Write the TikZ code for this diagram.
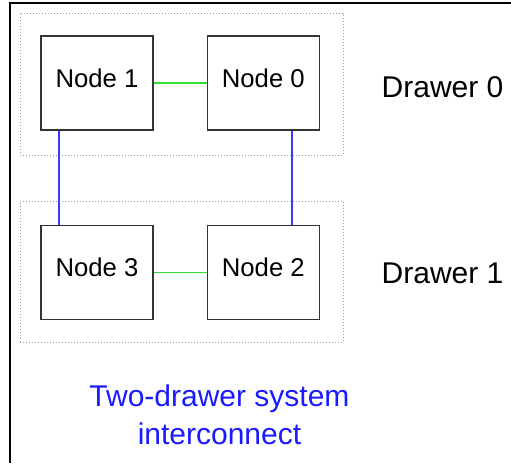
\documentclass[tikz,border=0pt]{standalone}
\usepackage{fontspec}
\setmainfont{Liberation Sans}
\usepackage{xcolor}
\usepackage{tikz}
\usetikzlibrary{positioning}
\definecolor{linkgreen}{HTML}{33DD33}
\definecolor{linkblue}{HTML}{3838FF}
\definecolor{titleblue}{HTML}{1A1AFF}
\definecolor{boxgray}{HTML}{333333}
\definecolor{dotgray}{HTML}{999999}

\begin{document}
\begin{tikzpicture}[x=1pt, y=-1pt,
    nodebox/.style={draw=boxgray, line width=1.3pt, minimum width=112pt, minimum height=94pt,
                    inner sep=0pt, text height=18.4pt, text depth=10pt,
                    font=\fontsize{25.7}{30}\selectfont},
    drawerbox/.style={draw=dotgray, dotted, line width=1pt, minimum width=323pt, inner sep=0pt},
    drawerlabel/.style={anchor=west, inner sep=0pt, font=\fontsize{30}{36}\selectfont},
    greenlink/.style={draw=linkgreen, line width=1.5pt},
    bluelink/.style={draw=linkblue, line width=1.5pt}]
    \useasboundingbox (0,0) rectangle (511,463);
    % outer frame (cut off on the right and bottom)
    \draw[line width=1.3pt] (10,463) |- (511,3);

    % drawers
    \node (dr0) [drawerbox, minimum height=142pt] at (181.5,84) {};
    \node (dr1) [drawerbox, minimum height=141pt] at (181.5,271.5) {};

    % nodes
    \node (n1) [nodebox] at (97,83) {Node 1};
    \node (n0) [nodebox, right=53pt of n1] {Node 0};
    \node (n3) [nodebox, below=94pt of n1] {Node 3};
    \node (n2) [nodebox, right=53pt of n3] {Node 2};

    % links
    \draw[greenlink] (n1) -- (n0);
    \draw[greenlink] (n3) -- (n2);
    \draw[bluelink] (n1.south -| 59,0) -- (n3.north -| 59,0);
    \draw[bluelink] (n0.south -| 292,0) -- (n2.north -| 292,0);

    % labels
    \node (lbl0) [drawerlabel, right=38pt of dr0, yshift=-3pt] {Drawer 0};
    \node (lbl1) [drawerlabel, right=38pt of dr1, yshift=-1.5pt] {Drawer 1};
    \node (title) [align=center, text=titleblue, inner sep=0pt,
                   font=\fontsize{30}{38.3}\selectfont] at (219.5,415) {Two-drawer system\\interconnect};
  \end{tikzpicture}
\end{document}
